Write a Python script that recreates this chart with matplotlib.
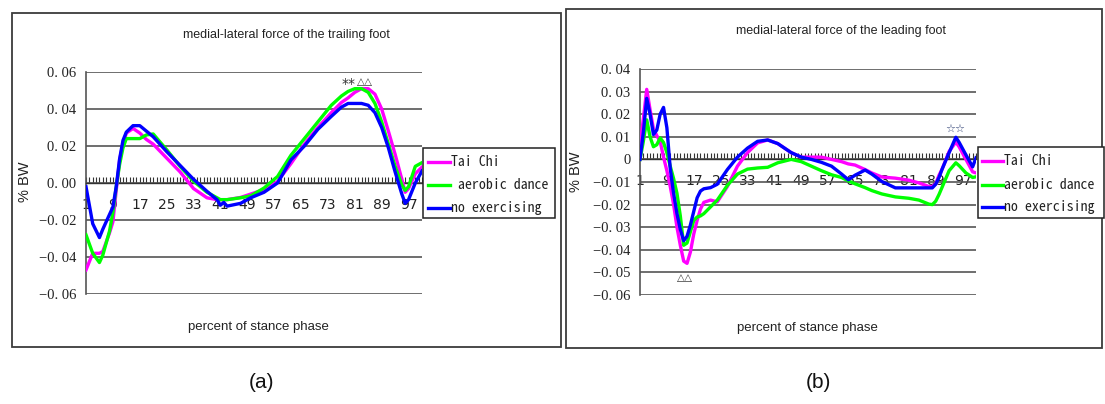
import matplotlib
matplotlib.use("Agg")
import matplotlib.pyplot as plt
from matplotlib.patches import Rectangle
from matplotlib.lines import Line2D

W, H = 1105, 404

# ---------------- data ----------------
series_names = ["Tai Chi", "aerobic dance", "no exercising"]
series_colors = ["#FF00FF", "#00FF00", "#0000FF"]

# (a) trailing foot
pos_a = [1, 3, 5, 6, 8, 9, 10, 11, 12, 13, 15, 17, 19, 21, 25, 29, 33, 37, 40,
         41, 42, 43, 47, 50, 54, 58, 62, 66, 70, 74, 77, 79, 81, 83, 85, 87, 89,
         91, 93, 95, 96, 97, 99, 101]
taichi_a = [-0.047, -0.038, -0.038, -0.037, -0.027, -0.021, -0.004, 0.0125, 0.021,
            0.027, 0.0295, 0.027, 0.0235, 0.021, 0.0135, 0.006, -0.003, -0.008,
            -0.009, -0.009, -0.009, -0.009, -0.0078, -0.006, -0.0035, 0.0008,
            0.0105, 0.021, 0.030, 0.038, 0.0435, 0.046, 0.049, 0.051, 0.051,
            0.048, 0.040, 0.028, 0.0155, 0.002, -0.005, -0.003, 0.005, 0.0086]
aerobic_a = [-0.028, -0.038, -0.043, -0.039, -0.026, -0.016, -0.002, 0.010, 0.019,
             0.024, 0.024, 0.024, 0.026, 0.0265, 0.018, 0.009, 0.001, -0.005,
             -0.008, -0.009, -0.009, -0.009, -0.008, -0.007, -0.0027, 0.0035,
             0.015, 0.024, 0.033, 0.042, 0.047, 0.0495, 0.051, 0.051, 0.049,
             0.043, 0.033, 0.021, 0.009, -0.001, -0.004, -0.002, 0.009, 0.011]
none_a = [-0.002, -0.022, -0.0295, -0.025, -0.017, -0.013, -0.002, 0.013, 0.023,
          0.0275, 0.031, 0.031, 0.028, 0.025, 0.017, 0.0095, 0.002, -0.0045,
          -0.009, -0.012, -0.0105, -0.0125, -0.011, -0.008, -0.005, 0.0, 0.0125,
          0.020, 0.029, 0.036, 0.041, 0.043, 0.043, 0.043, 0.042, 0.038, 0.030,
          0.019, 0.006, -0.006, -0.011, -0.009, 0.0, 0.0065]

# (b) leading foot
pos_b = [1, 2, 3, 4, 5, 6, 7, 8, 9, 10, 11, 12, 13, 14, 15, 16, 17, 18, 19, 20,
         22, 24, 27, 30, 33, 36, 39, 42, 46, 49, 52, 55, 58, 61, 63, 65, 68, 70,
         73, 77, 81, 84, 87, 88, 89, 90, 91, 93, 95, 96, 98, 100, 101]
taichi_b = [0.006, 0.018, 0.031, 0.022, 0.0135, 0.0105, 0.008, 0.001, -0.005,
            -0.012, -0.020, -0.030, -0.038, -0.045, -0.046, -0.041, -0.033,
            -0.027, -0.022, -0.019, -0.018, -0.0188, -0.012, -0.003, 0.003,
            0.0073, 0.0086, 0.007, 0.003, 0.001, 0.001, 0.001, 0.0, -0.001,
            -0.002, -0.0025, -0.0045, -0.006, -0.0078, -0.0083, -0.0092, -0.0104,
            -0.012, -0.012, -0.0108, -0.007, -0.004, 0.0035, 0.0077, 0.0055, 0.0,
            -0.0055, -0.006]
aerobic_b = [0.0, 0.008, 0.0175, 0.010, 0.0056, 0.0065, 0.0095, 0.0075, 0.003,
             -0.003, -0.0085, -0.015, -0.025, -0.038, -0.037, -0.032, -0.027,
             -0.0255, -0.025, -0.024, -0.021, -0.018, -0.0115, -0.0065, -0.0043,
             -0.0038, -0.0035, -0.0015, 0.0, -0.001, -0.003, -0.005, -0.0068,
             -0.008, -0.0095, -0.0108, -0.0125, -0.0138, -0.0153, -0.0166,
             -0.0172, -0.018, -0.0198, -0.020, -0.0185, -0.0155, -0.012, -0.005,
             -0.0015, -0.0028, -0.006, -0.008, -0.0077]
none_b = [0.0, 0.012, 0.027, 0.020, 0.011, 0.013, 0.020, 0.023, 0.014, -0.004,
          -0.015, -0.024, -0.031, -0.036, -0.034, -0.029, -0.023, -0.017, -0.014,
          -0.013, -0.0125, -0.011, -0.0045, 0.001, 0.005, 0.008, 0.0086, 0.007,
          0.003, 0.001, 0.0, -0.0013, -0.003, -0.0065, -0.009, -0.007, -0.0047,
          -0.0065, -0.0098, -0.0126, -0.0126, -0.0126, -0.0126, -0.0126, -0.011,
          -0.008, -0.004, 0.003, 0.0098, 0.0075, 0.002, -0.0033, 0.0007]

xtick_labels = list(range(1, 98, 8))
yticks_a = [0.06, 0.04, 0.02, 0.0, -0.02, -0.04, -0.06]
ytick_labels_a = ["0. 06", "0. 04", "0. 02", "0. 00", "\u22120. 02", "\u22120. 04", "\u22120. 06"]
yticks_b = [0.04, 0.03, 0.02, 0.01, 0.0, -0.01, -0.02, -0.03, -0.04, -0.05, -0.06]
ytick_labels_b = ["0. 04", "0. 03", "0. 02", "0. 01", "0", "\u22120. 01", "\u22120. 02",
                  "\u22120. 03", "\u22120. 04", "\u22120. 05", "\u22120. 06"]

# ---------------- styling ----------------
NARROW = ["Liberation Sans Narrow", "Liberation Sans", "DejaVu Sans"]
SERIF = ["Liberation Serif", "DejaVu Serif"]
MONO = ["Noto Sans Mono CJK SC", "Liberation Mono", "DejaVu Sans Mono"]
GRID = "#555555"


def fx(x):
    return x / W


def fy(y):
    return 1 - y / H


fig = plt.figure(figsize=(W / 100, H / 100), dpi=100)
fig.patch.set_facecolor("white")

# outer panel frames
for (x0, y0, x1, y1) in [(12, 13, 561, 347), (566, 9, 1102, 348)]:
    fig.add_artist(Rectangle((fx(x0), fy(y1)), fx(x1 - x0), (y1 - y0) / H,
                             transform=fig.transFigure, fill=False,
                             edgecolor="#3c3c3c", linewidth=1.3))


def make_panel(rect, pos, ys, yticks, ylabels, ylim, title, title_xy,
               ylabel_xy, xlabel_xy):
    ax = fig.add_axes(rect)
    ax.set_xlim(1, 101)
    ax.set_ylim(*ylim)
    for vals, c in zip(ys, series_colors):
        ax.plot(pos, vals, color=c, linewidth=2.4, zorder=3,
                solid_joinstyle="round")
    ax.set_yticks(yticks)
    ax.set_yticklabels(ylabels, fontfamily=SERIF, fontsize=10.5)
    ax.tick_params(axis="y", length=0, pad=7, colors="#222222")
    ax.yaxis.grid(True, color=GRID, linewidth=1.2)
    ax.set_axisbelow(True)
    ax.set_xticks(range(1, 102))
    ax.set_xticklabels([str(i) if i in xtick_labels else "" for i in range(1, 102)],
                       fontfamily=SERIF, fontsize=10.5)
    ax.tick_params(axis="x", direction="in", length=4.5, width=0.8,
                   color="#333333", pad=10.5, labelcolor="#222222")
    ax.spines["bottom"].set_position(("data", 0))
    ax.spines["bottom"].set_color("#333333")
    ax.spines["bottom"].set_linewidth(1.0)
    ax.spines["left"].set_color(GRID)
    ax.spines["left"].set_linewidth(1.2)
    ax.spines["top"].set_visible(False)
    ax.spines["right"].set_visible(False)
    fig.text(fx(title_xy[0]), fy(title_xy[1]), title, ha="center", va="center",
             fontfamily=NARROW, fontsize=9, color="#222222")
    fig.text(fx(ylabel_xy[0]), fy(ylabel_xy[1]), "% BW", ha="center", va="center",
             rotation=90, fontfamily=["Liberation Sans", "DejaVu Sans"],
             fontsize=10.5, color="#222222")
    fig.text(fx(xlabel_xy[0]), fy(xlabel_xy[1]), "percent of stance phase",
             ha="center", va="center", fontfamily=NARROW, fontsize=9.5,
             color="#222222")
    return ax


ax_a = make_panel([fx(86), fy(294), fx(336), 222 / H], pos_a,
                  [taichi_a, aerobic_a, none_a], yticks_a, ytick_labels_a,
                  (-0.06, 0.06), "medial-lateral force of the trailing foot",
                  (286, 35), (25, 182), (258, 327))
ax_b = make_panel([fx(640), fy(295), fx(336), 226 / H], pos_b,
                  [taichi_b, aerobic_b, none_b], yticks_b, ytick_labels_b,
                  (-0.06, 0.04), "medial-lateral force of the leading foot",
                  (841, 31), (576, 172), (807, 328))

# significance marks
ax_a.text(79, 0.0535, "**", ha="center", va="center", fontsize=10, color="#333333")
ax_a.text(84, 0.0545, "\u25b3\u25b3", ha="center", va="center", fontsize=7.5,
          color="#333333")
ax_b.text(14.4, -0.0525, "\u25b3\u25b3", ha="center", va="center", fontsize=7.5,
          color="#333333")
ax_b.text(94.8, 0.0135, "\u2606\u2606", ha="center", va="center", fontsize=8,
          color="#334477")


# legends
def draw_legend(box, line_x, text_x, rows_y, labels):
    x0, y0, x1, y1 = box
    fig.add_artist(Rectangle((fx(x0), fy(y1)), fx(x1 - x0), (y1 - y0) / H,
                             transform=fig.transFigure, facecolor="white",
                             edgecolor="#222222", linewidth=1.1, zorder=5))
    for yy, lab, c in zip(rows_y, labels, series_colors):
        fig.add_artist(Line2D([fx(line_x[0]), fx(line_x[1])], [fy(yy), fy(yy)],
                              transform=fig.transFigure, color=c, linewidth=2.4,
                              zorder=6))
        fig.text(fx(text_x), fy(yy), lab, ha="left", va="center",
                 fontfamily=MONO, fontsize=10, color="#222222", zorder=6)


draw_legend((423, 148, 555, 218), (428, 450), 451, (162, 185, 208),
            ["Tai Chi", " aerobic dance", "no exercising"])
draw_legend((978, 147, 1104, 218), (982, 1003), 1004, (161, 185, 207),
            series_names)

# panel captions
fig.text(fx(262), fy(383), "(a)", ha="center", va="center",
         fontfamily=["Liberation Sans", "DejaVu Sans"], fontsize=15, color="#111111")
fig.text(fx(818), fy(383), "(b)", ha="center", va="center",
         fontfamily=["Liberation Sans", "DejaVu Sans"], fontsize=15, color="#111111")

fig.savefig("out.png", dpi=100, facecolor="white")
